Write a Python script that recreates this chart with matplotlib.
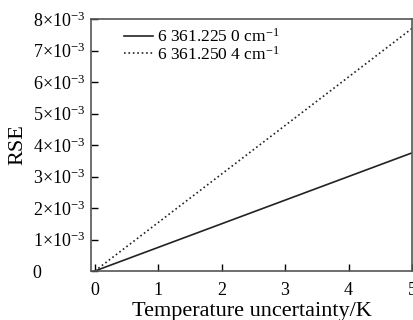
import numpy as np
import matplotlib
matplotlib.use("Agg")
import matplotlib.pyplot as plt

# temperature uncertainty (K) and RSE for the two lines
temp_unc = [0, 1, 2, 3, 4, 5]
rse_2250 = [0, 0.75e-3, 1.50e-3, 2.25e-3, 3.00e-3, 3.75e-3]
rse_2504 = [0, 1.54e-3, 3.08e-3, 4.62e-3, 6.16e-3, 7.70e-3]
labels = ["6 361.225 0 cm$^{-1}$", "6 361.250 4 cm$^{-1}$"]

yticks = [0, 1e-3, 2e-3, 3e-3, 4e-3, 5e-3, 6e-3, 7e-3, 8e-3]
yticklabels = ["0"] + [r"%d$\times$10$^{-3}$" % i for i in range(1, 9)]

plt.rcParams['font.family'] = ['Liberation Serif', 'DejaVu Serif']
plt.rcParams['mathtext.fontset'] = 'custom'
plt.rcParams['mathtext.rm'] = 'Liberation Serif'
plt.rcParams['mathtext.it'] = 'Liberation Serif:italic'
plt.rcParams['font.size'] = 13

fig = plt.figure(figsize=(4.14, 3.2), dpi=100)
ax = fig.add_axes([91/414, 1 - 271/320, (412 - 91)/414, (271 - 19)/320])

ax.plot(temp_unc, rse_2250, '-', color='#222222', lw=1.2, label=labels[0])
ax.plot(temp_unc, rse_2504, ':', color='#222222', lw=1.2, label=labels[1])

ax.set_xlim(-0.06, 5)
ax.set_ylim(0, 8e-3)
ax.set_xticks([0, 1, 2, 3, 4, 5])
ax.set_yticks(yticks)
ax.set_yticklabels(yticklabels)
ax.tick_params(direction='in', length=5, width=1, top=False, right=False)
ax.tick_params(axis='x', pad=8)
# y tick labels are left aligned in the reference
ax.tick_params(axis='y', pad=42)
for t in ax.get_yticklabels():
    t.set_horizontalalignment('left')
for s in ax.spines.values():
    s.set_color('#555555')
    s.set_linewidth(1.2)

ax.set_xlabel("Temperature uncertainty/K", fontsize=16, labelpad=2)
ax.set_ylabel("RSE", fontsize=16, labelpad=4)

ax.legend(loc='upper left', frameon=False, handlelength=1.7, handletextpad=0.2,
          labelspacing=0.0, borderaxespad=0.1, bbox_to_anchor=(0.075, 1.0),
          fontsize=12.5)

fig.savefig("out.png", dpi=100)
